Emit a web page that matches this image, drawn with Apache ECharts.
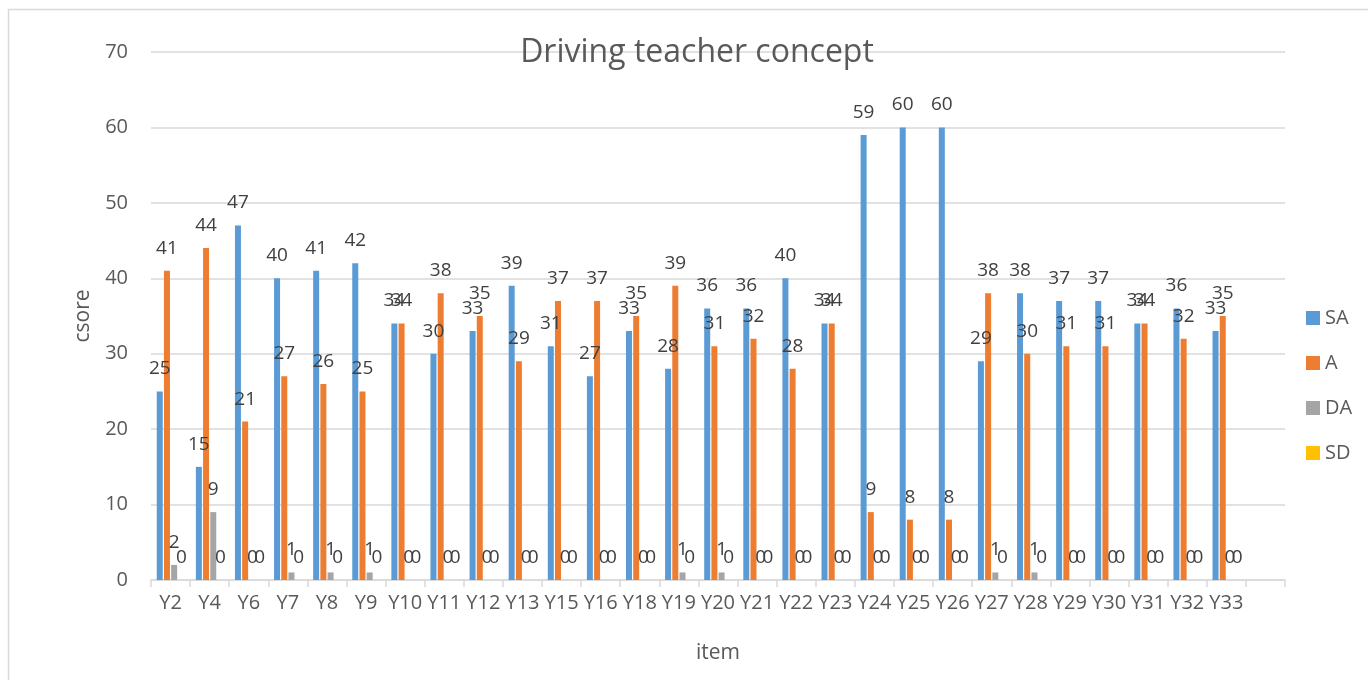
<!DOCTYPE html>
<html>
<head>
<meta charset="utf-8">
<script src="https://cdn.jsdelivr.net/npm/echarts@6/dist/echarts.min.js"></script>
<style>
  html, body { margin: 0; padding: 0; background: #fff; }
  #chart { width: 1368px; height: 680px; }
</style>
</head>
<body>
<div id="chart"></div>
<script>
// data
const items = ["Y2", "Y4", "Y6", "Y7", "Y8", "Y9", "Y10", "Y11", "Y12", "Y13", "Y15", "Y16", "Y18", "Y19",
  "Y20", "Y21", "Y22", "Y23", "Y24", "Y25", "Y26", "Y27", "Y28", "Y29", "Y30", "Y31", "Y32", "Y33", ""];
const saValues = [25, 15, 47, 40, 41, 42, 34, 30, 33, 39, 31, 27, 33, 28, 36, 36, 40, 34, 59, 60, 60, 29, 38, 37, 37, 34, 36, 33];
const aValues = [41, 44, 21, 27, 26, 25, 34, 38, 35, 29, 37, 37, 35, 39, 31, 32, 28, 34, 9, 8, 8, 38, 30, 31, 31, 34, 32, 35];
const daValues = [2, 9, 0, 1, 1, 1, 0, 0, 0, 0, 0, 0, 0, 1, 1, 0, 0, 0, 0, 0, 0, 1, 1, 0, 0, 0, 0, 0];
const sdValues = [0, 0, 0, 0, 0, 0, 0, 0, 0, 0, 0, 0, 0, 0, 0, 0, 0, 0, 0, 0, 0, 0, 0, 0, 0, 0, 0, 0];
const yTicks = { min: 0, max: 70, interval: 10 };

const fontFamily = "'Open Sans', 'Noto Sans', sans-serif";
const colors = ["#5B9BD5", "#ED7D31", "#A5A5A5", "#FFC000"];

function makeSeries(name, values, color) {
  return {
    name: name,
    type: "bar",
    data: values,
    barWidth: 6,
    barGap: "20%",
    itemStyle: { color: color },
    label: {
      show: true,
      position: "top",
      distance: 13,
      color: "#404040",
      fontSize: 19,
      fontFamily: fontFamily
    }
  };
}

const chart = echarts.init(document.getElementById("chart"));
const option = {
  animation: false,
  color: colors,
  title: {
    text: "Driving teacher concept",
    left: 692,
    top: 32,
    textAlign: "center",
    textStyle: { color: "#595959", fontSize: 32, fontWeight: "normal", fontFamily: fontFamily }
  },
  legend: {
    orient: "vertical",
    left: 1301,
    top: 303,
    itemWidth: 14,
    itemHeight: 14,
    itemGap: 25,
    itemTextGap: 6,
    icon: "rect",
    textStyle: { color: "#595959", fontSize: 20, fontFamily: fontFamily },
    data: ["SA", "A", "DA", "SD"]
  },
  grid: { left: 151, right: 83, top: 52, bottom: 100, containLabel: false },
  xAxis: {
    type: "category",
    data: items,
    name: "item",
    nameLocation: "middle",
    nameGap: 63,
    nameTextStyle: { color: "#595959", fontSize: 21, fontFamily: fontFamily },
    axisLine: { lineStyle: { color: "#d9d9d9", width: 1.5 } },
    axisTick: { show: true, length: 7, lineStyle: { color: "#d9d9d9", width: 1.5 } },
    axisLabel: { color: "#595959", fontSize: 20, margin: 13, fontFamily: fontFamily, interval: 0 }
  },
  yAxis: {
    type: "value",
    min: yTicks.min,
    max: yTicks.max,
    interval: yTicks.interval,
    name: "csore",
    nameLocation: "middle",
    nameGap: 57,
    nameTextStyle: { color: "#595959", fontSize: 21, fontFamily: fontFamily },
    axisLine: { show: false },
    axisTick: { show: false },
    axisLabel: { color: "#595959", fontSize: 20, margin: 23, fontFamily: fontFamily },
    splitLine: { lineStyle: { color: "#d9d9d9", width: 1.5 } }
  },
  graphic: [{
    type: "rect",
    shape: { x: 8.5, y: 9.5, width: 1366, height: 680 },
    style: { fill: null, stroke: "#d9d9d9", lineWidth: 1.5 },
    silent: true
  }],
  series: [
    makeSeries("SA", saValues, colors[0]),
    makeSeries("A", aValues, colors[1]),
    makeSeries("DA", daValues, colors[2]),
    makeSeries("SD", sdValues, colors[3])
  ]
};
chart.setOption(option);
</script>
</body>
</html>
